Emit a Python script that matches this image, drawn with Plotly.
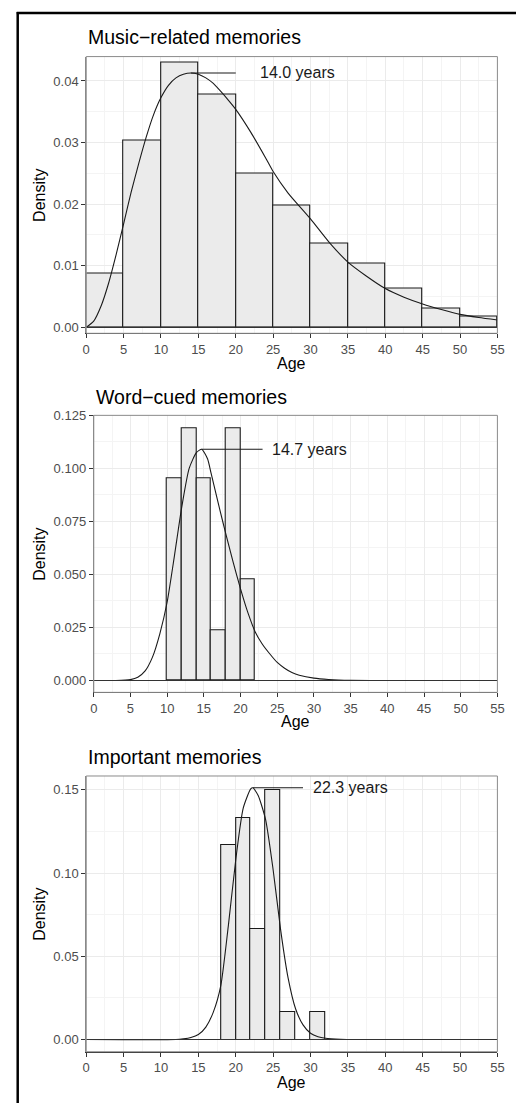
import plotly.graph_objects as go

# ---------------- data ----------------
# Panel 1: Music-related memories (bin width 5)
music_bin_start = [0, 5, 10, 15, 20, 25, 30, 35, 40, 45, 50]
music_bin_width = 5
music_density = [0.0087, 0.0303, 0.0430, 0.0378, 0.0250, 0.0197, 0.0136, 0.0104, 0.0063, 0.0031, 0.0018]
music_curve_age = [0, 1, 2, 3, 4, 5, 6, 7, 8, 9, 10, 11, 12, 13, 14, 15, 16, 17, 18, 19, 20,
                   22, 24, 25, 27, 30, 32.5, 35, 37.5, 40, 42.5, 45, 47.5, 50, 52.5, 55]
music_curve_density = [0, 0.001, 0.0035, 0.0072, 0.0118, 0.0168, 0.0219, 0.0265, 0.0308, 0.0345,
                       0.0373, 0.0393, 0.0405, 0.0411, 0.0413, 0.0411, 0.0405, 0.0396, 0.0383,
                       0.0369, 0.0354, 0.0317, 0.0275, 0.0253, 0.0218, 0.0176, 0.0138, 0.0106,
                       0.0083, 0.0063, 0.0049, 0.0038, 0.0029, 0.0021, 0.0016, 0.0012]

# Panel 2: Word-cued memories (bin width 2)
word_bin_start = [10, 12, 14, 16, 18, 20]
word_bin_width = 2
word_density = [0.0952, 0.1190, 0.0952, 0.0238, 0.1190, 0.0476]
word_curve_age = [0, 3, 5, 6, 7, 8, 9, 10, 11, 12, 13, 14, 14.7, 15.5, 16, 17, 18, 19, 20, 21,
                  22, 23, 24, 25, 26, 27, 28, 30, 32, 35, 40, 55]
word_curve_density = [0, 0, 0.0004, 0.0015, 0.0045, 0.011, 0.022, 0.037, 0.059, 0.082, 0.100,
                      0.1075, 0.109, 0.1045, 0.0975, 0.083, 0.069, 0.0557, 0.0432, 0.032, 0.0229,
                      0.017, 0.0125, 0.0085, 0.0058, 0.0038, 0.0025, 0.0011, 0.0005, 0.0001, 0, 0]

# Panel 3: Important memories (bin width 2)
imp_bin_start = [18, 20, 22, 24, 26, 28, 30]
imp_bin_width = 2
imp_density = [0.1167, 0.1333, 0.0667, 0.1500, 0.0167, 0.0, 0.0167]
imp_curve_age = [0, 12, 13, 14, 15, 16, 17, 18, 19, 20, 21, 22, 22.3, 23, 24, 25, 26, 27, 28, 29,
                 30, 31, 32, 34, 36, 55]
imp_curve_density = [0, 0, 0.0004, 0.0012, 0.003, 0.0075, 0.0165, 0.0324, 0.068, 0.108, 0.139,
                     0.1505, 0.1512, 0.1466, 0.132, 0.102, 0.066, 0.037, 0.0185, 0.0088, 0.0038,
                     0.0017, 0.0008, 0.0002, 0, 0]

titles = ["Music\u2212related memories", "Word\u2212cued memories", "Important memories"]
peak_age = [14.0, 14.7, 22.3]
peak_density = [0.0413, 0.109, 0.1512]
peak_line_end = [20, 23, 29]
peak_label_x = [23, 24, 30]
peak_labels = ["14.0 years", "14.7 years", "22.3 years"]

# ---------------- layout geometry (pixels) ----------------
W, H = 523, 1105
FONT = "Liberation Sans, Arial, Helvetica, sans-serif"
panels = [
    dict(l=84, r=504, t=50, b=329, yr=[-0.00097, 0.04396], dt=0.01, fmt=".2f"),
    dict(l=91.7, r=504, t=411.7, b=691, yr=[-0.0056, 0.125], dt=0.025, fmt=".3f"),
    dict(l=84, r=504, t=775.3, b=1053.3, yr=[-0.0073, 0.1583], dt=0.05, fmt=".2f"),
]
title_y = [30.3, 393, 755.7]
age_y = [359.5, 720.8, 1084]

bins = [(music_bin_start, music_bin_width, music_density),
        (word_bin_start, word_bin_width, word_density),
        (imp_bin_start, imp_bin_width, imp_density)]
curves = [(music_curve_age, music_curve_density),
          (word_curve_age, word_curve_density),
          (imp_curve_age, imp_curve_density)]

fig = go.Figure()
shapes = []
annotations = []

def px(x):
    return x / W

def py(y):
    return 1 - y / H

for i, p in enumerate(panels):
    n = "" if i == 0 else str(i + 1)
    xa, ya = "x" + n, "y" + n
    starts, width, dens = bins[i]
    fig.add_trace(go.Bar(x=starts, y=dens, width=width, offset=0,
                         marker=dict(color="#ebebeb", line=dict(color="#1a1a1a", width=1.1)),
                         xaxis=xa, yaxis=ya, showlegend=False, hoverinfo="skip"))
    cx, cy = curves[i]
    fig.add_trace(go.Scatter(x=cx, y=cy, mode="lines",
                             line=dict(color="#1a1a1a", width=1.1, shape="spline", smoothing=0.6),
                             xaxis=xa, yaxis=ya, showlegend=False, hoverinfo="skip"))
    # peak marker line
    fig.add_trace(go.Scatter(x=[peak_age[i], peak_line_end[i]], y=[peak_density[i], peak_density[i]],
                             mode="lines", line=dict(color="#1a1a1a", width=1.1),
                             xaxis=xa, yaxis=ya, showlegend=False, hoverinfo="skip"))
    # zero baseline
    shapes.append(dict(type="line", xref=xa, yref=ya, x0=0, x1=55, y0=0, y1=0,
                       line=dict(color="#333333", width=1.1), layer="above"))
    # panel border
    shapes.append(dict(type="rect", xref="paper", yref="paper",
                       x0=px(p["l"]), x1=px(p["r"]), y0=py(p["b"]), y1=py(p["t"]),
                       line=dict(color="#8a8a8a", width=1), layer="above"))

    xkey = "xaxis" + n
    ykey = "yaxis" + n
    fig.update_layout({
        xkey: dict(domain=[px(p["l"]), px(p["r"])], anchor=ya, range=[0, 55],
                   tick0=0, dtick=5, ticks="outside", ticklen=4, tickcolor="#333333",
                   showline=True, linecolor="#333333", linewidth=1.2,
                   showgrid=True, gridcolor="#ebebeb", gridwidth=1, zeroline=False,
                   minor=dict(dtick=2.5, showgrid=True, gridcolor="#f4f4f4", gridwidth=0.6),
                   tickfont=dict(family=FONT, size=13, color="#4d4d4d"), fixedrange=True),
        ykey: dict(domain=[py(p["b"]), py(p["t"])], anchor=xa, range=p["yr"],
                   tick0=0, dtick=p["dt"], tickformat=p["fmt"], ticks="outside", ticklen=4,
                   tickcolor="#333333", showline=True, linecolor="#8a8a8a", linewidth=1,
                   showgrid=True, gridcolor="#ebebeb", gridwidth=1, zeroline=False,
                   minor=dict(dtick=p["dt"] / 2, showgrid=True, gridcolor="#f4f4f4", gridwidth=0.6),
                   tickfont=dict(family=FONT, size=13, color="#4d4d4d"), fixedrange=True),
    })

    # peak label
    annotations.append(dict(x=peak_label_x[i], y=peak_density[i], xref=xa, yref=ya,
                            text=peak_labels[i], showarrow=False, xanchor="left", yanchor="middle",
                            font=dict(family=FONT, size=16, color="#1a1a1a")))
    # title
    annotations.append(dict(x=px(p["l"]), y=py(title_y[i]), xref="paper", yref="paper",
                            text=titles[i], showarrow=False, xanchor="left", yanchor="middle",
                            font=dict(family=FONT, size=19.5, color="#000000")))
    # axis titles
    annotations.append(dict(x=px((p["l"] + p["r"]) / 2), y=py(age_y[i]), xref="paper", yref="paper",
                            text="Age", showarrow=False, xanchor="center", yanchor="middle",
                            font=dict(family=FONT, size=16, color="#000000")))
    annotations.append(dict(x=px(36.7), y=py((p["t"] + p["b"]) / 2), xref="paper", yref="paper",
                            text="Density", textangle=-90, showarrow=False,
                            xanchor="center", yanchor="middle",
                            font=dict(family=FONT, size=16, color="#000000")))

# outer frame (left and top black lines)
shapes.append(dict(type="line", xref="paper", yref="paper", x0=px(14), x1=px(14), y0=0, y1=py(5),
                   line=dict(color="#000000", width=2.5)))
shapes.append(dict(type="line", xref="paper", yref="paper", x0=px(13), x1=1, y0=py(6), y1=py(6),
                   line=dict(color="#000000", width=2.5)))

fig.update_layout(width=W, height=H, margin=dict(l=0, r=0, t=0, b=0, pad=0),
                  paper_bgcolor="white", plot_bgcolor="white", bargap=0,
                  shapes=shapes, annotations=annotations, showlegend=False)

fig.write_html("out.html", config={"displayModeBar": False},
               post_script="document.body.style.margin='0';document.body.style.overflow='hidden';")
